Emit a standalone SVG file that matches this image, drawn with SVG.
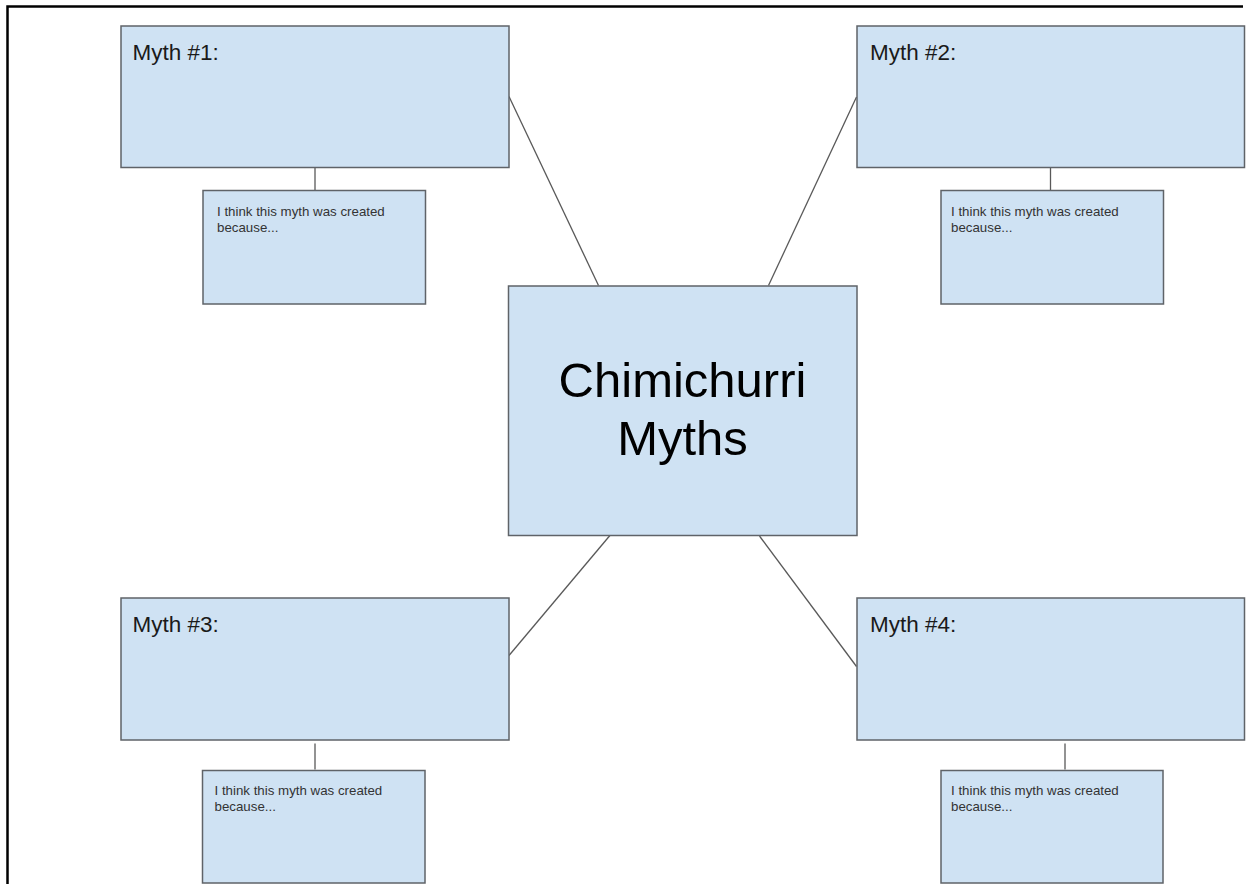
<svg xmlns="http://www.w3.org/2000/svg" width="1248" height="884" viewBox="0 0 1248 884">
<style>
.box{fill:#cfe2f3;stroke:#5f6368;stroke-width:1.5}
.conn{stroke:#595959;stroke-width:1.3;fill:none}
.frame{stroke:#000;stroke-width:2.5;fill:none}
.title{font-family:"Liberation Sans",Arial,sans-serif;font-size:22.5px;fill:#1a1a1a}
.small{font-family:"Liberation Sans",Arial,sans-serif;font-size:13.3px;fill:#333}
.center{font-family:"Liberation Sans",Arial,sans-serif;font-size:49px;fill:#000;text-anchor:middle}
</style>
<rect width="1248" height="884" fill="#fff"/>
<g id="frame">
<path class="frame" d="M1243 6.5 H7.5 V884"/>
</g>
<g id="connectors">
<line class="conn" x1="509" y1="96.5" x2="598.5" y2="285.5"/>
<line class="conn" x1="856.5" y1="97" x2="768.5" y2="285.5"/>
<line class="conn" x1="612" y1="533" x2="509" y2="655.5"/>
<line class="conn" x1="759.5" y1="536" x2="856.5" y2="666.5"/>
<line class="conn" x1="315" y1="168" x2="315" y2="190"/>
<line class="conn" x1="1050.5" y1="168" x2="1050.5" y2="190"/>
<line class="conn" x1="315" y1="743.5" x2="315" y2="769.5"/>
<line class="conn" x1="1065" y1="743.5" x2="1065" y2="769.5"/>
</g>
<g id="center">
<rect class="box" x="508.5" y="286" width="348.5" height="249.5"/>
<text class="center" x="682.5" y="397">Chimichurri</text>
<text class="center" x="682.5" y="455">Myths</text>
</g>
<g id="myth1">
<rect class="box" x="121" y="26" width="388" height="141.5"/>
<text class="title" x="132.5" y="60">Myth #1:</text>
</g>
<g id="reason1">
<rect class="box" x="203" y="190.5" width="222.5" height="113.5"/>
<text class="small" x="217" y="216">I think this myth was created</text>
<text class="small" x="217" y="232">because...</text>
</g>
<g id="myth2">
<rect class="box" x="857" y="26" width="387.5" height="141.5"/>
<text class="title" x="870" y="60">Myth #2:</text>
</g>
<g id="reason2">
<rect class="box" x="941" y="190.5" width="222.5" height="113.5"/>
<text class="small" x="951" y="216">I think this myth was created</text>
<text class="small" x="951" y="232">because...</text>
</g>
<g id="myth3">
<rect class="box" x="121" y="598" width="388" height="142"/>
<text class="title" x="132.5" y="631.5">Myth #3:</text>
</g>
<g id="reason3">
<rect class="box" x="202.5" y="770.5" width="222.5" height="112.5"/>
<text class="small" x="214.5" y="795">I think this myth was created</text>
<text class="small" x="214.5" y="811">because...</text>
</g>
<g id="myth4">
<rect class="box" x="857" y="598" width="387.5" height="142"/>
<text class="title" x="870" y="631.5">Myth #4:</text>
</g>
<g id="reason4">
<rect class="box" x="941" y="770.5" width="222" height="112.5"/>
<text class="small" x="951" y="795">I think this myth was created</text>
<text class="small" x="951" y="811">because...</text>
</g>
</svg>
